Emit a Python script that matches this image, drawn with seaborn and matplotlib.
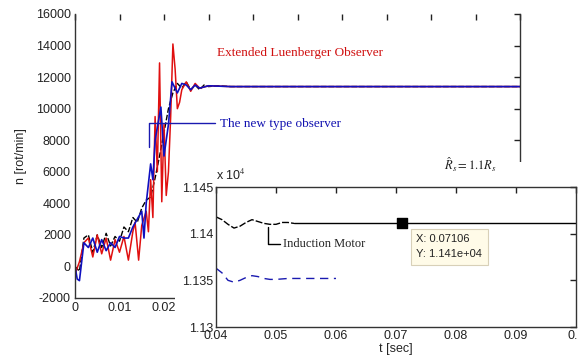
import numpy as np
import pandas as pd
import matplotlib
matplotlib.use("Agg")
import matplotlib.pyplot as plt
from matplotlib.patches import Rectangle
import seaborn as sns

# ---------------- data ----------------
# main plot: speed n [rot/min] vs time t [sec]
t_motor = [0, 0.001, 0.002, 0.003, 0.004, 0.005, 0.006, 0.007, 0.008, 0.009, 0.010,
           0.011, 0.012, 0.013, 0.014, 0.015, 0.016, 0.017, 0.018, 0.019, 0.020,
           0.021, 0.022, 0.023, 0.024, 0.025, 0.026, 0.027, 0.028, 0.029, 0.030,
           0.032, 0.035, 0.1]
n_motor = [0, -300, 1800, 2000, 900, 2000, 1200, 2100, 1300, 1900, 1600,
           2500, 2200, 3100, 2800, 3700, 4200, 4400, 5600, 7000, 8500,
           10000, 11000, 11600, 11300, 11700, 11200, 11500, 11200, 11500, 11400,
           11450, 11400, 11400]

t_elo = [0, 0.001, 0.002, 0.003, 0.004, 0.005, 0.006, 0.007, 0.008, 0.009, 0.010,
         0.011, 0.012, 0.013, 0.0135, 0.0143, 0.015, 0.016, 0.0165, 0.017, 0.0175,
         0.018, 0.0185, 0.019, 0.0195, 0.020, 0.0205, 0.021, 0.0215, 0.022, 0.0225,
         0.023, 0.0235, 0.024, 0.025, 0.026, 0.027, 0.028, 0.030, 0.035, 0.1]
n_elo = [-500, 300, 1500, 1800, 600, 2000, 800, 1800, 400, 1700, 900,
         1900, 400, 2200, 2800, 400, 2600, 3500, 2200, 5500, 3100,
         9500, 6000, 12900, 4100, 9000, 4500, 6000, 9500, 14100, 12500,
         10000, 10400, 11200, 11700, 11100, 11600, 11300, 11450, 11400, 11400]

t_new = [0, 0.0005, 0.001, 0.002, 0.003, 0.004, 0.005, 0.006, 0.007, 0.008, 0.009,
         0.010, 0.011, 0.012, 0.013, 0.014, 0.015, 0.0155, 0.016, 0.017, 0.0175,
         0.018, 0.0193, 0.020, 0.021, 0.0218, 0.023, 0.024, 0.025, 0.026, 0.027,
         0.028, 0.030, 0.035, 0.1]
n_new = [0, -800, -900, 1500, 1200, 1800, 900, 1700, 1000, 1500, 1200,
         1900, 1800, 1800, 2500, 3000, 3500, 1800, 4000, 6500, 5500,
         8000, 10100, 7000, 9000, 11700, 11000, 11600, 11500, 11200, 11500,
         11300, 11450, 11400, 11400]

# inset (values in units of 10^4 rot/min)
ti_motor = [0.04, 0.041, 0.042, 0.043, 0.044, 0.045, 0.046, 0.047, 0.048, 0.049,
            0.050, 0.051, 0.052, 0.053, 0.1]
ni_motor = [1.1418, 1.1415, 1.1410, 1.1406, 1.1408, 1.1412, 1.1415, 1.1413, 1.1411,
            1.1410, 1.1410, 1.1412, 1.1412, 1.1411, 1.1411]
ti_new = [0.04, 0.041, 0.042, 0.043, 0.044, 0.045, 0.046, 0.047, 0.048, 0.049,
          0.050, 0.052, 0.055, 0.060]
ni_new = [1.1363, 1.1358, 1.1350, 1.1348, 1.1350, 1.1353, 1.1355, 1.1354, 1.1352,
          1.1351, 1.1351, 1.1352, 1.1352, 1.1352]

tip_x = [0.07106]
tip_y = [1.1411]

main_yticks = [-2000, 0, 2000, 4000, 6000, 8000, 10000, 12000, 14000, 16000]
main_yticklabels = ["-2000", "0", "2000", "4000", "6000", "8000", "10000", "12000", "14000", "16000"]
main_xticks = [0, 0.01, 0.02, 0.03, 0.04, 0.05, 0.06, 0.07, 0.08, 0.09, 0.1]
main_xticklabels = ["0", "0.01", "0.02", "0.03", "0.04", "0.05", "0.06", "0.07", "0.08", "0.09", "0.1"]
inset_xticks = [0.04, 0.05, 0.06, 0.07, 0.08, 0.09, 0.1]
inset_xticklabels = ["0.04", "0.05", "0.06", "0.07", "0.08", "0.09", "0.1"]
inset_yticks = [1.13, 1.135, 1.14, 1.145]
inset_yticklabels = ["1.13", "1.135", "1.14", "1.145"]

# ---------------- style ----------------
sns.set_theme(style="white")
plt.rcParams["font.family"] = ["Liberation Sans", "DejaVu Sans"]
plt.rcParams["mathtext.fontset"] = "stix"
plt.rcParams["axes.linewidth"] = 1.0

W, H = 578, 363
fig = plt.figure(figsize=(W / 100, H / 100), dpi=100)

def fx(px):
    return px / W

def fy(py):
    return 1 - py / H

# main axes
ax = fig.add_axes([fx(75), fy(298), fx(520) - fx(75), fy(14) - fy(298)])
ax.set_zorder(0)

df_m = pd.DataFrame({"t": t_motor, "n": n_motor})
df_e = pd.DataFrame({"t": t_elo, "n": n_elo})
df_n = pd.DataFrame({"t": t_new, "n": n_new})

sns.lineplot(data=df_m, x="t", y="n", ax=ax, color="black", lw=1.0,
             estimator=None, sort=False, dashes=False, linestyle=(0, (4, 1.5)))
sns.lineplot(data=df_e, x="t", y="n", ax=ax, color="#e01010", lw=1.1,
             estimator=None, sort=False)
sns.lineplot(data=df_n, x="t", y="n", ax=ax, color="#1010c0", lw=1.2,
             estimator=None, sort=False)

ax.set_xlim(0, 0.1)
ax.set_ylim(-2000, 16000)
ax.set_xticks(main_xticks)
ax.set_xticklabels(main_xticklabels)
ax.set_yticks(main_yticks)
ax.set_yticklabels(main_yticklabels)
ax.set_xlabel("")
ax.set_ylabel("n [rot/min]", fontsize=9, labelpad=6)
ax.tick_params(direction="in", length=4, width=1, top=True, right=True,
               labelsize=9, colors="#222222", pad=3)
ax.spines["top"].set_visible(False)
for s in ["left", "right", "bottom"]:
    ax.spines[s].set_color("#333333")
ax.grid(False)

# annotations in main axes
ax.text(0.0318, 13530, "Extended Luenberger Observer", color="#d01010",
        family=["Liberation Serif"], fontsize=9.5, va="center", ha="left")
ax.plot([0.0166, 0.0166, 0.0314], [7570, 9090, 9090], color="#1a1ab0", lw=1.0)
ax.text(0.0325, 9050, "The new type observer", color="#1010b0",
        family=["Liberation Serif"], fontsize=9.5, va="center", ha="left")

# white patch covering part of main axes behind the inset
fig.patches.append(Rectangle((fx(175), 0), 1 - fx(175), fy(162), transform=fig.transFigure,
                             facecolor="white", edgecolor="none", zorder=1))

fig.text(fx(444), fy(165), r"$\hat{R}_s = 1.1R_s$", fontsize=9, va="center", ha="left",
         zorder=5, color="#222222")

# inset axes
axi = fig.add_axes([fx(216), fy(327), fx(576) - fx(216), fy(187) - fy(327)])
axi.set_zorder(2)

n_early = 14
sns.lineplot(x=ti_motor[:n_early], y=ni_motor[:n_early], ax=axi, color="black", lw=1.0,
             estimator=None, sort=False, linestyle=(0, (5, 1.5)))
sns.lineplot(x=ti_motor[n_early - 1:], y=ni_motor[n_early - 1:], ax=axi, color="black", lw=1.0,
             estimator=None, sort=False)
sns.lineplot(x=ti_new, y=ni_new, ax=axi, color="#1a1ab0", lw=1.0,
             estimator=None, sort=False, linestyle=(0, (6, 4)))
axi.scatter(tip_x, tip_y, marker="s", s=45, color="black", zorder=5)

axi.set_xlim(0.04, 0.1)
axi.set_ylim(1.13, 1.145)
axi.set_xticks(inset_xticks)
axi.set_xticklabels(inset_xticklabels)
axi.set_yticks(inset_yticks)
axi.set_yticklabels(inset_yticklabels)
axi.set_xlabel("t [sec]", fontsize=9, labelpad=1)
axi.set_ylabel("")
axi.tick_params(direction="in", length=4, width=1, top=True, right=True,
                labelsize=9, colors="#222222", pad=2)
for s in axi.spines.values():
    s.set_color("#333333")
axi.grid(False)
axi.text(0.0, 1.03, r"x 10$^4$", transform=axi.transAxes, fontsize=9, ha="left", va="bottom",
         color="#222222")

# Induction Motor label
axi.plot([0.0486, 0.0486, 0.0506], [1.14075, 1.13889, 1.13889], color="black", lw=1.0)
axi.text(0.0512, 1.13889, "Induction Motor", family=["Liberation Serif"], fontsize=9,
         va="center", ha="left", color="#222222")

# data tip box
axi.text(0.0734, 1.1386, "X: 0.07106\nY: 1.141e+04", fontsize=8, va="center", ha="left",
         linespacing=1.6, color="#222222",
         bbox=dict(boxstyle="square,pad=0.5", facecolor="#fffbe8", edgecolor="#d8d0b8", lw=0.8))

fig.savefig("out.png", dpi=100)
